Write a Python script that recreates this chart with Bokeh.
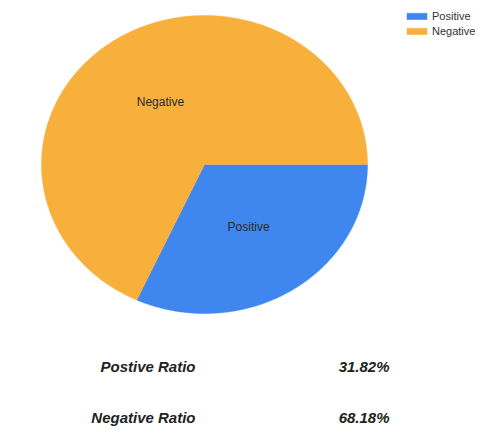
import numpy as np
from bokeh.plotting import figure
from bokeh.models import ColumnDataSource, Range1d, Legend, LegendItem
from bokeh.core.properties import value
from bokeh.embed import file_html
from bokeh.resources import INLINE

# ---- data ----
categories = ["Positive", "Negative"]
ratios = [31.82, 68.18]
colors = ["#3F87EE", "#F8B03C"]
ratio_names = ["Postive Ratio", "Negative Ratio"]
ratio_texts = ["31.82%", "68.18%"]

# ---- layout ----
W, H = 475, 427
CX, CY, RX, RY = 204, 164, 163, 149

p = figure(width=W, height=H, output_backend="svg", toolbar_location=None,
           x_range=Range1d(0, W), y_range=Range1d(H, 0),
           min_border=0, tools="")
p.axis.visible = False
p.grid.visible = False
p.outline_line_color = None
p.background_fill_color = "white"

frac = np.array(ratios) / sum(ratios)
ends = -2 * np.pi * np.cumsum(frac)
starts = np.concatenate([[0.0], ends[:-1]])

xs, ys, lx, ly = [], [], [], []
for s, e in zip(starts, ends):
    th = np.linspace(s, e, 200)
    xs.append(list(np.concatenate([[CX], CX + RX * np.cos(th)])))
    ys.append(list(np.concatenate([[CY], CY - RY * np.sin(th)])))
    m = (s + e) / 2
    lx.append(CX + 0.5 * RX * np.cos(m))
    ly.append(CY - 0.5 * RY * np.sin(m))

src = ColumnDataSource(dict(xs=xs, ys=ys, color=colors, label=categories, lx=lx, ly=ly))
r = p.patches("xs", "ys", fill_color="color", line_color="color", line_width=0.5, source=src)

p.text("lx", "ly", text="label", source=src, text_align="center", text_baseline="middle",
       text_font=value("Liberation Sans"), text_font_size="12px", text_color="#2a2a2a")

legend = Legend(items=[LegendItem(label=categories[i], renderers=[r], index=i) for i in range(len(categories))],
                location=(404, H - 9 - 29), glyph_width=25, glyph_height=8, label_height=14,
                spacing=1, padding=0, margin=0, label_standoff=3,
                label_text_font="Liberation Sans", label_text_font_size="11px",
                label_text_color="#333333", background_fill_alpha=0, border_line_color=None)
p.add_layout(legend)

tsrc = ColumnDataSource(dict(name=ratio_names, val=ratio_texts, y=[366, 417]))
p.text(x=195, y="y", text="name", source=tsrc, text_align="right", text_baseline="middle",
       text_font=value("Liberation Sans"), text_font_style="bold italic",
       text_font_size="15px", text_color="#222222")
p.text(x=389, y="y", text="val", source=tsrc, text_align="right", text_baseline="middle",
       text_font=value("Liberation Sans"), text_font_style="bold italic",
       text_font_size="15px", text_color="#222222")

open("out.html", "w").write(file_html(p, INLINE))
